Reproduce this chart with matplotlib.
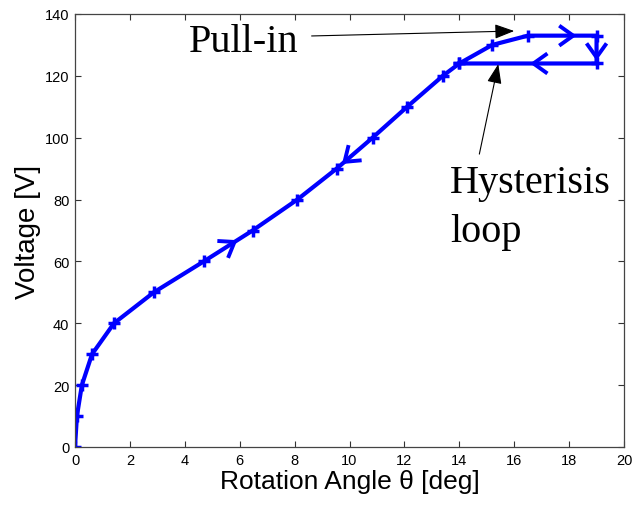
import matplotlib
matplotlib.use("Agg")
import matplotlib.pyplot as plt
import numpy as np

# Data
angle = [0.0, 0.07, 0.25, 0.62, 1.42, 2.87, 4.69, 6.47, 8.1, 9.53, 10.84, 12.1, 13.4, 14.0, 15.2, 16.5, 19.0, 19.0, 14.0]
voltage = [0, 10, 20, 30, 40, 50, 60, 70, 80, 90, 100, 110, 120, 124, 130, 133, 133, 124, 124]

# direction chevrons: (segment start index, fraction along segment, reversed)
arrow_seg = [6, 9, 15, 16, 17]
arrow_frac = [0.63, 0.22, 0.66, 0.78, 0.46]
arrow_rev = [False, True, False, False, False]

xticks = list(range(0, 21, 2))
yticks = list(range(0, 141, 20))

fig = plt.figure(figsize=(6.42, 5.06), dpi=100)
ax = fig.add_axes([75 / 642, 1 - 448 / 506, 549 / 642, 433 / 506])

blue = (0, 0, 1)
ax.plot(angle, voltage, color=blue, lw=3, marker='+', ms=8, mew=2.5, solid_joinstyle='round')

ax.set_xlim(0, 20)
ax.set_ylim(0, 140)

inv = ax.transData.inverted()
for s, f, r in zip(arrow_seg, arrow_frac, arrow_rev):
    x0, y0 = angle[s], voltage[s]
    x1, y1 = angle[s + 1], voltage[s + 1]
    tx, ty = x0 + f * (x1 - x0), y0 + f * (y1 - y0)
    p0 = ax.transData.transform((x0, y0))
    p1 = ax.transData.transform((x1, y1))
    d = p1 - p0
    if r:
        d = -d
    u = d / np.hypot(*d)
    n = np.array([-u[1], u[0]])
    tip = ax.transData.transform((tx, ty))
    a1 = tip - u * 14 + n * 10
    a2 = tip - u * 14 - n * 10
    pts = inv.transform(np.array([a1, tip, a2]))
    ax.plot(pts[:, 0], pts[:, 1], color=blue, lw=2.8, solid_joinstyle='miter', solid_capstyle='butt')

ax.set_xticks(xticks)
ax.set_yticks(yticks)
ax.tick_params(direction='in', top=True, right=True, length=4, width=0.8, labelsize=10.5, colors='#333333',
               labelcolor='black', pad=4)
for sp in ax.spines.values():
    sp.set_color('#444444')
    sp.set_linewidth(0.9)

for lab in ax.get_xticklabels() + ax.get_yticklabels():
    lab.set_family('Liberation Sans')

ax.set_xlabel('Rotation Angle θ [deg]', fontsize=19, family='Liberation Sans', labelpad=2)
ax.set_ylabel('Voltage [V]', fontsize=20, family='Liberation Sans', labelpad=3)

ax.text(4.15, 128.1, 'Pull-in', fontsize=29, family='Liberation Serif', va='baseline', ha='left')
ax.annotate('', xy=(16.0, 134.5), xytext=(8.62, 132.9),
            arrowprops=dict(arrowstyle='-|>,head_length=1.2,head_width=0.45', color='black', lw=0.8,
                            shrinkA=0, shrinkB=0, mutation_scale=10))
ax.annotate('', xy=(15.42, 123.8), xytext=(14.73, 94.7),
            arrowprops=dict(arrowstyle='-|>,head_length=1.2,head_width=0.45', color='black', lw=0.8,
                            shrinkA=0, shrinkB=0, mutation_scale=10))
ax.text(13.67, 82.4, 'Hysterisis', fontsize=29, family='Liberation Serif', va='baseline', ha='left')
ax.text(13.67, 66.6, 'loop', fontsize=29, family='Liberation Serif', va='baseline', ha='left')

fig.savefig('out.png', dpi=100)
